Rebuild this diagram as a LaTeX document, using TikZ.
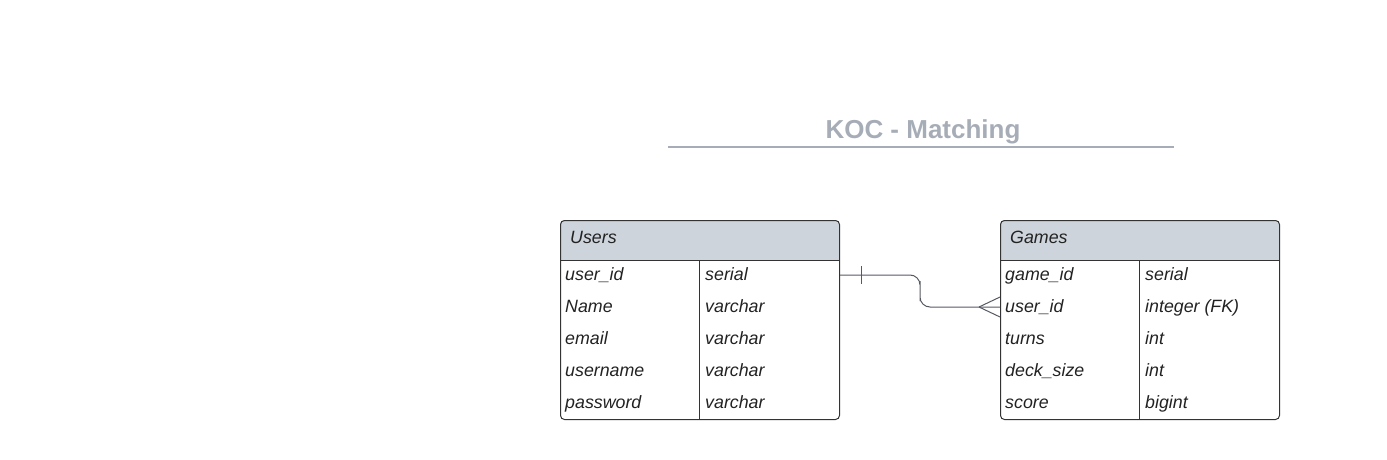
\documentclass[tikz,border=0pt]{standalone}
\usepackage{fontspec}
\setmainfont{Liberation Sans}
\usetikzlibrary{calc}
\definecolor{hdr}{HTML}{CED4DC}
\definecolor{ttl}{HTML}{A7ADB7}
\definecolor{edge}{HTML}{333333}
\definecolor{txt}{HTML}{222222}
\definecolor{conn}{HTML}{555A62}
\tikzset{
  tbl/.style={draw=edge, line width=1pt, rounded corners=4pt},
  cell/.style={anchor=base west, inner sep=0pt, text=txt, font=\fontsize{17.8}{20}\selectfont\itshape},
  title/.style={anchor=base, inner sep=0pt, text=ttl, font=\fontsize{26}{28}\selectfont\bfseries},
  relline/.style={draw=conn, line width=1pt},
}
\begin{document}
\begin{tikzpicture}[x=1pt,y=-1pt]
\useasboundingbox (0,0) rectangle (1387,460);
% title
\node[title] (title) at (923,138) {KOC - Matching};
\draw[ttl, line width=2pt] (668,147) -- (1174,147);
% Users table
\fill[hdr] (560,260) {[rounded corners=4pt] -- (560,220) -- (839,220)} -- (839,260) -- cycle;
\node[tbl, minimum width=279pt, minimum height=199pt, anchor=north west, inner sep=0pt] (users) at (560,220) {};
\draw[edge, line width=1pt] (560,260) -- (839,260) (699,260) -- (699,419);
\node[cell] (uh) at (570,243) {Users};
\node[cell] (u1) at (565,280) {user\_id};
\node[cell] (u2) at (565,312) {Name};
\node[cell] (u3) at (565,344) {email};
\node[cell] (u4) at (565,376) {username};
\node[cell] (u5) at (565,408) {password};
\node[cell] (ut1) at (705,280) {serial};
\node[cell] (ut2) at (705,312) {varchar};
\node[cell] (ut3) at (705,344) {varchar};
\node[cell] (ut4) at (705,376) {varchar};
\node[cell] (ut5) at (705,408) {varchar};
% Games table
\fill[hdr] (1000,260) {[rounded corners=4pt] -- (1000,220) -- (1279,220)} -- (1279,260) -- cycle;
\node[tbl, minimum width=279pt, minimum height=199pt, anchor=north west, inner sep=0pt] (games) at (1000,220) {};
\draw[edge, line width=1pt] (1000,260) -- (1279,260) (1139,260) -- (1139,419);
\node[cell] (gh) at (1010,243) {Games};
\node[cell] (g1) at (1005,280) {game\_id};
\node[cell] (g2) at (1005,312) {user\_id};
\node[cell] (g3) at (1005,344) {turns};
\node[cell] (g4) at (1005,376) {deck\_size};
\node[cell] (g5) at (1005,408) {score};
\node[cell] (gt1) at (1145,280) {serial};
\node[cell] (gt2) at (1145,312) {integer (FK)};
\node[cell] (gt3) at (1145,344) {int};
\node[cell] (gt4) at (1145,376) {int};
\node[cell] (gt5) at (1145,408) {bigint};
% relationship
\coordinate (uR) at (users.east |- 0,275);
\coordinate (gL) at (games.west |- 0,307);
\draw[relline, rounded corners=10pt] (uR) -| ($(uR)!.5!(gL)$) |- (gL);
\draw[relline] ([xshift=21pt]uR) ++(0,-9) -- ++(0,18);
\draw[relline] ([xshift=-21pt]gL) -- ([yshift=10pt]gL);
\draw[relline] ([xshift=-21pt]gL) -- ([yshift=-10pt]gL);
\end{tikzpicture}
\end{document}
